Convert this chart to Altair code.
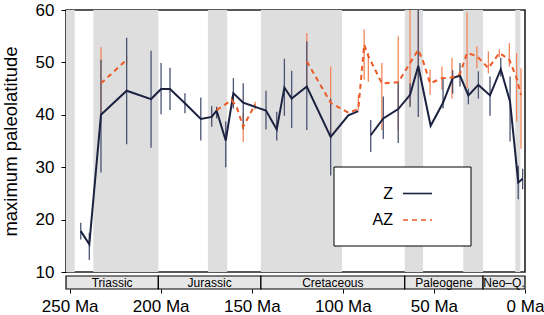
import altair as alt
import pandas as pd
import numpy as np

FONT = "Liberation Sans"

# ---- data (ages in Ma, paleolatitude in degrees) ----
z_age = [243.9, 239.2, 232.8, 218.7, 205.3, 199.8, 194.9, 186.7, 178.0, 172.0, 169.3,
         164.3, 160.1, 154.7, 142.2, 136.3, 132.1, 128.1, 119.8, 106.7, 97.0, 91.5,
         84.7, 77.8, 69.6, 63.1, 58.6, 51.8, 45.0, 39.7, 35.7, 31.1, 25.6, 19.2,
         13.3, 8.2, 3.7, 1.3]
z_lat = [17.8, 15.3, 40.0, 44.6, 43.0, 44.9, 44.9, 42.2, 39.2, 39.6, 40.8,
         35.1, 44.1, 42.3, 40.8, 37.2, 45.2, 43.1, 45.4, 35.8, 39.9, 40.7,
         36.1, 39.3, 41.1, 43.8, 49.3, 37.9, 42.3, 47.0, 47.5, 43.7, 45.7, 43.7,
         48.7, 42.5, 27.1, 27.8]
z_lo = [16.2, 12.3, 29.0, 34.4, 33.7, 40.1, 40.9, 40.3, 35.1, 37.7, 39.3,
        30.0, 41.2, 37.2, 37.2, 35.1, 39.8, 37.5, 37.1, 28.4, None, None,
        32.9, 35.4, 34.6, 41.5, 39.6, None, 41.2, 44.0, 45.4, 42.0, 43.1, 39.8,
        47.3, 34.9, 23.9, 25.8]
z_hi = [19.4, 17.5, 50.5, 54.7, 52.2, 49.9, 49.0, 44.1, 43.3, 41.7, 41.5,
        38.7, 47.0, 46.0, 44.6, 40.6, 50.7, 48.4, 54.0, 43.1, None, None,
        39.0, 43.5, 46.3, 46.0, 60.1, None, 47.1, 48.5, 49.9, 45.0, 48.3, 47.3,
        50.9, 47.3, 30.3, 29.7]
z_seg = [1] * 22 + [2] * 16

az_age = [232.8, 218.7,
          169.3, 161.0, 158.3, 154.7, 148.2,
          119.8, 106.7, 97.0, 91.5, 88.3, 86.0, 78.6, 69.6, 63.1, 58.6, 56.0,
          52.1, 45.6, 40.1, 35.7, 31.8, 26.4, 20.1, 14.1, 8.6, 4.6, 2.2]
az_lat = [46.0, 50.5,
          40.9, 42.8, 41.5, 37.7, 42.0,
          50.2, 42.3, 40.4, 41.1, 53.4, 51.2, 46.0, 46.2, 49.9, 52.4, 50.3,
          46.0, 47.0, 47.1, 47.8, 51.8, 51.2, 48.9, 51.8, 50.5, 47.0, 43.8]
az_lo = [40.0, 49.7,
         40.3, 41.5, None, 34.8, 41.0,
         45.1, 35.4, None, 40.9, 46.7, 46.3, 37.1, 37.1, 41.9, 47.0, None,
         43.8, 44.8, 43.1, None, 45.1, 48.9, 47.9, 51.0, 49.2, 38.7, 33.5]
az_hi = [52.9, 51.2,
         41.6, 43.5, None, 40.3, 42.5,
         55.6, 49.2, None, 43.8, 56.3, 51.8, 49.9, 55.0, 62.0, 62.0, None,
         48.6, 49.2, 50.9, None, 59.5, 53.1, 52.1, 52.5, 53.7, 51.8, 48.9]
az_seg = [1, 1, 2, 2, 2, 2, 2] + [3] * 22

# alternating epoch bands (Ma)
band_start = [252.0, 237.0, 174.1, 145.0, 66.0, 33.9, 5.33]
band_end = [247.2, 201.3, 163.5, 100.5, 56.0, 23.03, 2.58]

# geological periods (Ma)
period_name = ["Triassic", "Jurassic", "Cretaceous", "Paleogene", "Neo\u2013Q."]
period_start = [252.0, 201.3, 145.0, 66.0, 23.03]
period_end = [201.3, 145.0, 66.0, 23.03, 0.0]

x_ticks = [250, 200, 150, 100, 50, 0]
y_ticks = [10, 20, 30, 40, 50, 60]

Z_COL = "#1B2240"
Z_ERR = "#4A5372"
AZ_COL = "#EC5A26"
AZ_ERR = "#F2865C"

W, H = 459, 262
xscale = alt.Scale(domain=[252, 0], nice=False, zero=False)
yscale = alt.Scale(domain=[10, 60], nice=False, zero=False)

zdf = pd.DataFrame({"age": z_age, "lat": z_lat, "lo": z_lo, "hi": z_hi, "seg": z_seg})
azdf = pd.DataFrame({"age": az_age, "lat": az_lat, "lo": az_lo, "hi": az_hi, "seg": az_seg})
zerr = zdf.dropna(subset=["lo", "hi"])
azerr = azdf.dropna(subset=["lo", "hi"])
bands = pd.DataFrame({"s": band_start, "e": band_end})
periods = pd.DataFrame({"name": period_name, "s": period_start, "e": period_end})
periods["mid"] = (periods["s"] + periods["e"]) / 2

yaxis = alt.Axis(values=y_ticks, title="maximum paleolatitude", grid=False, domain=False,
                 tickSize=5, tickColor="black", labelFontSize=17, labelColor="black",
                 labelFont=FONT, labelPadding=7, titleFont=FONT, titleFontSize=18.5,
                 titleFontWeight="normal", titleColor="black", titlePadding=15)

band_layer = alt.Chart(bands).mark_rect(color="#DEDEDE").encode(
    x=alt.X("s:Q", scale=xscale, axis=None), x2="e:Q",
    y=alt.value(0), y2=alt.value(H))

az_err_layer = alt.Chart(azerr).mark_rule(color=AZ_ERR, strokeWidth=1.3, clip=True).encode(
    x=alt.X("age:Q", scale=xscale, axis=None),
    y=alt.Y("lo:Q", scale=yscale, axis=yaxis), y2="hi:Q")

z_err_layer = alt.Chart(zerr).mark_rule(color=Z_ERR, strokeWidth=1.3, clip=True).encode(
    x=alt.X("age:Q", scale=xscale, axis=None),
    y=alt.Y("lo:Q", scale=yscale, axis=yaxis), y2="hi:Q")

z_line = alt.Chart(zdf).mark_line(color=Z_COL, strokeWidth=2, clip=True).encode(
    x=alt.X("age:Q", scale=xscale, axis=None),
    y=alt.Y("lat:Q", scale=yscale, axis=yaxis), detail="seg:N",
    order=alt.Order("age:Q", sort="descending"))

az_line = alt.Chart(azdf).mark_line(color=AZ_COL, strokeWidth=2, strokeDash=[5, 4], clip=True).encode(
    x=alt.X("age:Q", scale=xscale, axis=None),
    y=alt.Y("lat:Q", scale=yscale, axis=yaxis), detail="seg:N",
    order=alt.Order("age:Q", sort="descending"))

# legend box (decoration)
one = pd.DataFrame({"k": [0]})
leg_box = alt.Chart(one).mark_rect(fill="white", stroke="black", strokeWidth=1).encode(
    x=alt.value(268), x2=alt.value(405), y=alt.value(157), y2=alt.value(236))
leg_text_z = alt.Chart(pd.DataFrame({"t": ["Z"]})).mark_text(
    align="right", baseline="middle", fontSize=16, font=FONT, color="black").encode(
    text="t:N", x=alt.value(327), y=alt.value(184))
leg_text_az = alt.Chart(pd.DataFrame({"t": ["AZ"]})).mark_text(
    align="right", baseline="middle", fontSize=16, font=FONT, color="black").encode(
    text="t:N", x=alt.value(327), y=alt.value(210))
leg_z = alt.Chart(one).mark_rule(color=Z_COL, strokeWidth=1.6).encode(
    x=alt.value(337), x2=alt.value(366), y=alt.value(183.5))
leg_az = alt.Chart(one).mark_rule(color=AZ_COL, strokeWidth=1.6, strokeDash=[5, 4]).encode(
    x=alt.value(337), x2=alt.value(366), y=alt.value(210))

main = alt.layer(band_layer, az_err_layer, z_err_layer, z_line, az_line,
                 leg_box, leg_text_z, leg_text_az, leg_z, leg_az).properties(
    width=W, height=H, view=alt.ViewBackground(stroke="#222222", strokeWidth=1.6))

xaxis = alt.Axis(values=x_ticks, labelExpr="datum.value + ' Ma'", grid=False, domain=False,
                 tickSize=4, tickColor="black", labelFontSize=17, labelColor="black",
                 labelFont=FONT, labelPadding=5, title=None, labelFlush=False, labelOverlap=False)

per_rect = alt.Chart(periods).mark_rect(fill="#E6E6E6", stroke="black", strokeWidth=1.2).encode(
    x=alt.X("s:Q", scale=xscale, axis=xaxis), x2="e:Q",
    y=alt.value(0), y2=alt.value(13))
per_text = alt.Chart(periods).mark_text(fontSize=12, font=FONT, color="black",
                                        baseline="middle").encode(
    x=alt.X("mid:Q", scale=xscale, axis=xaxis), y=alt.value(7), text="name:N")

bar = alt.layer(per_rect, per_text).properties(
    width=W, height=13, view=alt.ViewBackground(stroke=None))

chart = alt.vconcat(main, bar, spacing=4, bounds="flush").properties(
    padding={"left": 0, "top": 0, "right": 0, "bottom": 0}).configure_view(stroke=None)

chart.save("out.html", embed_options={"renderer": "svg", "actions": False})
